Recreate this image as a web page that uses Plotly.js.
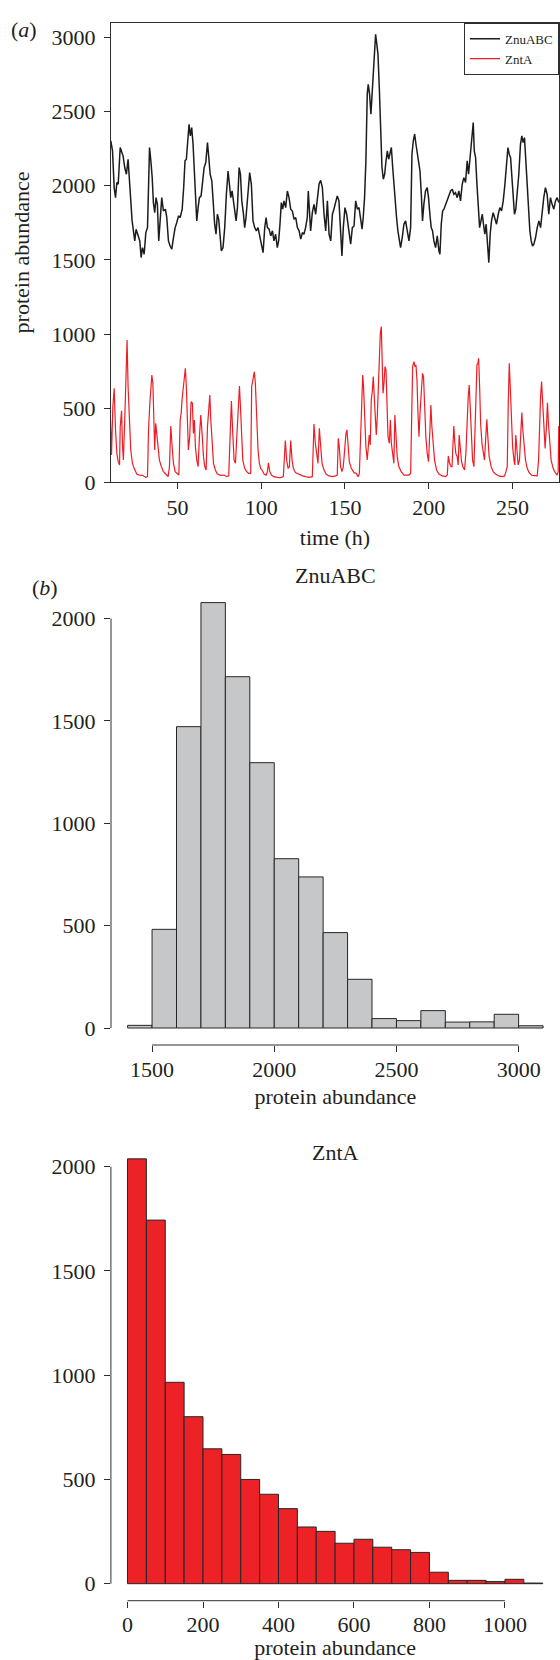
<!DOCTYPE html>
<html>
<head>
<meta charset="utf-8">
<script src="https://cdn.plot.ly/plotly-3.0.1.min.js"></script>
<style>
html,body{margin:0;padding:0;background:#fff;}
#chart{width:560px;height:1660px;}
</style>
</head>
<body>
<div id="chart"></div>
<script>
// ---------- Panel (a): time series ----------
var znuTime = [10.2,11.2,12.2,13.0,13.8,14.6,15.8,16.6,17.5,18.5,19.5,20.5,21.3,22.1,22.9,23.7,24.5,25.3,26.5,27.5,28.3,29.1,30.1,31.1,32.1,33.3,34.1,34.9,35.6,36.4,37.2,38.0,38.8,39.6,40.6,41.6,42.8,43.6,44.6,45.6,46.6,47.6,48.6,49.6,50.6,51.6,52.8,53.7,54.5,55.3,56.1,56.9,57.7,58.5,59.3,60.1,60.9,61.5,62.3,63.1,64.1,65.1,65.9,66.9,67.9,68.7,69.5,70.5,71.5,72.2,73.0,73.8,74.6,75.4,76.2,77.2,78.2,79.2,80.2,81.0,81.8,82.6,83.4,84.2,85.0,85.8,86.8,87.6,88.4,89.4,90.1,90.9,92.1,93.1,94.1,95.1,96.1,97.1,98.1,
100.1,101.1,102.1,102.9,103.7,104.7,105.7,106.7,107.6,108.6,109.6,110.4,111.2,112.0,112.8,113.6,114.6,115.6,116.6,117.6,118.6,119.6,120.6,121.6,122.6,123.6,124.6,125.5,126.5,127.5,128.1,128.9,129.5,130.5,131.5,132.5,133.5,134.5,135.5,136.5,137.5,138.5,139.5,140.5,141.5,142.5,143.4,144.4,145.4,146.4,147.4,148.2,149.0,150.0,151.0,151.8,152.6,153.4,154.4,155.4,156.4,157.4,158.4,159.4,160.2,160.9,161.7,162.5,163.3,163.9,164.7,165.5,166.3,167.1,167.7,168.3,168.9,169.7,170.5,171.3,172.1,172.9,173.7,174.5,175.3,176.1,176.9,177.7,178.5,179.2,180.0,180.8,181.6,182.4,183.2,184.2,185.2,186.2,187.2,188.2,
189.2,190.0,190.8,191.6,192.4,193.2,194.0,194.8,195.6,196.3,197.1,198.1,199.1,199.9,200.7,201.5,202.3,203.1,204.1,205.1,206.1,206.7,207.5,208.3,209.1,210.1,211.1,212.1,213.1,214.1,215.0,216.0,217.0,218.0,219.0,220.0,221.0,222.0,223.0,223.8,224.6,225.4,226.0,226.6,227.2,228.0,228.8,229.6,230.4,231.2,232.0,232.7,233.5,234.3,235.1,235.9,236.7,237.5,238.5,239.5,240.5,241.5,242.5,243.5,244.5,245.5,246.5,247.3,248.1,248.9,249.7,250.5,251.2,252.0,252.8,253.8,254.8,255.6,256.4,257.2,258.0,258.8,259.6,260.4,261.2,262.0,262.8,263.8,264.8,265.8,266.8,267.8,268.7,269.7,270.7,271.7,272.7,273.7,274.7,275.7,276.7,277.7];
var znuValues = [2303,2235,1988,1920,2022,2010,2258,2224,2202,2123,2078,2179,2033,1875,1763,1696,1628,1707,1662,1628,1516,1583,1538,1684,1718,2258,2168,2055,1887,1819,1920,1875,1628,1786,1920,1830,1842,1786,1628,1594,1572,1651,1718,1752,1797,1786,1842,1988,2168,2179,2325,2415,2337,2393,2280,2123,1943,1763,1853,1920,1932,2055,2123,2157,2292,2190,2078,2033,1853,1741,1673,1808,1774,1651,1561,1583,1718,1943,2100,2010,1920,1965,1898,1842,1763,1853,2123,2078,1898,1808,1718,1786,1943,2089,2010,1763,1718,1696,1718,
1606,1549,1718,1786,1718,1707,1662,1696,1628,1673,1583,1628,1741,1887,1842,1898,1853,1965,1920,1842,1830,1774,1786,1718,1696,1640,1684,1673,1718,1786,1965,1808,1696,1819,1875,1808,1920,2010,2037,1988,1808,1696,1898,1673,1628,1808,1842,1898,1932,1898,1718,1527,1718,1853,1808,1741,1684,1606,1718,1729,1898,1842,1853,1763,1707,1786,1920,2168,2618,2685,2618,2483,2640,2775,2955,3022,2966,2888,2663,2393,2123,2044,2078,2168,2235,2179,2213,2258,2123,2010,1898,1786,1696,1651,1583,1651,1741,1763,1696,1628,
1718,2213,2303,2348,2280,2213,2146,2100,1943,1763,1875,1965,1988,1920,1808,1718,1696,1628,1583,1662,1561,1538,1741,1830,1842,1875,1898,1943,1965,1977,1943,1954,1920,1965,1898,2010,2055,2022,2168,2078,2168,2258,2325,2427,2235,2190,2010,1875,1718,1763,1808,1741,1673,1741,1606,1482,1673,1763,1819,1786,1741,1808,1853,1830,1898,2010,2168,2258,2213,2190,2055,1898,1808,1842,1943,2078,2280,2337,2292,2325,2168,1988,1808,1696,1628,1594,1606,1651,1718,1763,1718,1853,1920,1988,1943,1808,1920,1875,1842,1898,1920,1887];

var zntTime = [10.0,10.6,11.4,12.2,13.0,13.8,14.6,15.4,15.8,16.6,17.2,17.7,18.5,19.3,19.9,20.5,21.3,22.1,23.1,24.1,25.7,27.3,29.1,31.1,32.1,32.7,33.5,34.1,34.7,35.3,35.8,36.4,37.0,37.6,38.4,39.2,40.4,41.6,43.0,44.4,45.2,46.0,46.8,47.6,48.6,49.6,50.8,51.6,52.2,52.8,53.5,54.1,54.7,55.3,55.9,56.5,57.3,58.1,58.9,59.5,60.1,60.7,61.5,62.3,63.1,63.9,64.7,65.5,66.3,67.1,67.9,68.7,69.3,69.9,70.7,71.5,72.6,73.8,75.8,77.8,79.4,80.6,81.4,82.2,83.0,83.8,84.6,85.4,86.2,87.0,87.6,88.2,89.0,90.1,91.3,92.5,93.7,94.3,95.1,95.9,96.5,97.3,98.1,98.9,99.7,
100.5,101.7,102.9,103.7,104.3,105.1,106.1,107.6,109.6,111.6,113.2,114.0,114.4,115.2,116.0,116.8,117.6,118.4,119.2,120.4,122.0,123.6,124.7,126.5,128.5,130.5,131.1,131.5,132.3,133.1,133.9,134.7,135.5,136.3,137.5,138.7,140.5,142.5,144.4,145.4,146.0,146.6,147.4,148.2,149.0,149.8,150.6,151.2,151.8,152.6,153.8,155.4,156.8,157.8,158.6,159.4,160.0,160.6,161.1,161.7,162.5,163.3,163.9,164.5,165.1,165.7,166.3,166.9,167.5,168.1,168.7,169.3,169.9,170.5,171.1,171.7,172.1,172.7,173.3,173.9,174.5,175.1,175.7,176.5,177.1,177.7,178.5,179.2,179.8,180.4,181.2,182.2,183.6,185.2,187.2,
188.2,189.2,189.8,190.4,191.2,191.8,192.4,193.0,193.6,194.2,194.8,195.6,196.3,196.9,197.5,198.3,199.1,199.9,200.7,201.3,201.9,202.7,203.5,204.7,206.1,208.1,210.1,211.1,211.7,212.5,213.3,213.9,214.4,215.0,215.6,216.2,217.0,217.6,218.2,218.8,219.6,220.4,221.4,222.2,223.0,223.6,224.2,224.8,225.4,226.2,227.0,227.6,228.2,228.8,229.4,229.8,230.4,231.0,231.8,232.5,233.3,234.1,234.7,235.3,236.1,237.3,238.5,239.9,241.9,243.9,245.3,246.1,246.9,247.5,248.1,248.7,249.3,250.1,250.9,251.4,252.0,252.6,253.4,254.2,255.0,255.6,256.2,257.0,257.8,258.8,260.0,261.6,263.2,264.8,265.6,266.2,266.8,267.4,268.0,268.7,269.5,270.3,270.9,271.5,272.3,273.1,274.3,275.5,276.7,277.3,277.7];
var zntValues = [420,184,510,634,353,195,139,117,375,483,240,150,420,870,960,645,353,218,128,94,56,49,47,33,38,353,533,668,724,668,420,218,398,330,218,150,105,72,56,38,105,380,240,128,72,60,49,420,465,567,645,724,769,645,420,218,308,544,533,330,420,240,150,105,308,454,330,173,105,83,375,555,589,420,218,128,83,56,47,49,38,43,308,549,330,150,128,308,555,650,510,285,150,94,72,60,60,645,701,746,668,420,218,128,94,
83,56,49,72,132,72,49,38,33,31,38,195,281,150,94,105,281,150,94,65,56,49,43,38,33,38,240,393,263,173,128,364,240,128,83,56,43,38,43,49,297,240,105,72,105,240,330,353,240,139,94,65,60,38,60,308,578,724,645,443,240,150,263,319,252,555,612,713,578,443,319,443,645,893,1005,1050,870,600,668,780,758,555,308,263,420,263,173,128,454,308,173,105,72,49,47,
49,60,533,780,814,780,791,690,465,308,465,600,735,713,488,308,195,139,353,522,375,240,150,83,56,43,38,49,177,128,105,105,240,380,263,195,173,117,319,207,139,105,83,195,465,578,656,488,263,150,105,375,600,791,803,836,645,398,263,195,150,308,425,308,173,105,72,56,43,38,43,72,105,533,803,645,420,240,150,117,319,218,117,150,353,470,353,218,150,94,65,47,43,43,150,465,578,679,555,353,229,375,537,398,240,150,94,65,49,72,380];

var seriesNames = ['ZnuABC', 'ZntA'];
var timeTicks = [50, 100, 150, 200, 250];
var abundanceTicksA = [0, 500, 1000, 1500, 2000, 2500, 3000];

// ---------- Panel (b): histograms ----------
var znuBinLeft = [1400,1500,1600,1700,1800,1900,2000,2100,2200,2300,2400,2500,2600,2700,2800,2900,3000];
var znuCounts  = [13,482,1472,2078,1716,1296,827,738,466,238,46,36,85,29,30,67,11];
var znuBinWidth = 100;
var znuTicks = [1500, 2000, 2500, 3000];

var zntBinLeft = [0,50,100,150,200,250,300,350,400,450,500,550,600,650,700,750,800,850,900,950,1000,1050];
var zntCounts  = [2038,1744,966,801,647,620,500,429,360,272,251,194,213,175,163,150,55,16,16,10,21,3];
var zntBinWidth = 50;
var zntTicks = [0, 200, 400, 600, 800, 1000];
var countTicks = [0, 500, 1000, 1500, 2000];

var axisTitle = 'protein abundance';

// ---------- layout helpers (pixel geometry) ----------
var W = 560, H = 1660;
function dx(a, b) { return [a / W, b / W]; }
function dy(top, bottom) { return [1 - bottom / H, 1 - top / H]; }
var SERIF = 'Liberation Serif';
var TXT = '#231f20';
var LINE = '#2e2e2e';
function serif(size) { return {family: SERIF, size: size, color: TXT}; }

function baseAxis(extra) {
  var o = {
    showgrid: false, zeroline: false,
    ticks: 'outside', ticklen: 6, tickwidth: 1, tickcolor: LINE,
    tickfont: serif(22), tickmode: 'array', fixedrange: true
  };
  for (var k in extra) o[k] = extra[k];
  return o;
}

var traces = [
  {x: znuTime, y: znuValues, type: 'scatter', mode: 'lines', name: seriesNames[0],
   line: {color: '#1c1c1c', width: 1.5}, xaxis: 'x', yaxis: 'y'},
  {x: zntTime, y: zntValues, type: 'scatter', mode: 'lines', name: seriesNames[1],
   line: {color: '#ee1d25', width: 1.2}, xaxis: 'x', yaxis: 'y'},
  {x: znuBinLeft, y: znuCounts, type: 'bar', width: znuBinWidth, offset: 0,
   marker: {color: '#c6c7c9', line: {color: '#262626', width: 1}},
   showlegend: false, xaxis: 'x2', yaxis: 'y2', hoverinfo: 'y'},
  {x: zntBinLeft, y: zntCounts, type: 'bar', width: zntBinWidth, offset: 0,
   marker: {color: '#ec2227', line: {color: '#262626', width: 1}},
   showlegend: false, xaxis: 'x3', yaxis: 'y3', hoverinfo: 'y'}
];

var layout = {
  width: W, height: H,
  margin: {l: 0, r: 0, t: 0, b: 0},
  paper_bgcolor: '#ffffff', plot_bgcolor: 'rgba(0,0,0,0)',
  font: serif(14),
  bargap: 0,
  showlegend: true,
  legend: {
    x: 559 / W, xanchor: 'right', y: 1 - 22.7 / H, yanchor: 'top',
    bgcolor: '#ffffff', bordercolor: LINE, borderwidth: 1,
    font: serif(13),
    itemwidth: 30, tracegroupgap: 0
  },
  xaxis: baseAxis({
    domain: dx(111, 559), range: [10.3, 277.8], tickvals: timeTicks,
    showline: true, mirror: true, linecolor: LINE, linewidth: 1,
    anchor: 'y', ticklabelstandoff: -1,
    title: {text: 'time (h)', font: serif(22), standoff: 10}
  }),
  yaxis: baseAxis({
    domain: dy(22.7, 482.3), range: [0, 3100], tickvals: abundanceTicksA,
    showline: true, mirror: true, linecolor: LINE, linewidth: 1,
    anchor: 'x', ticklabelstandoff: 4,
    title: {text: axisTitle, font: serif(22), standoff: 15}
  }),
  xaxis2: baseAxis({
    domain: dx(111, 559.7), range: [1332, 3168], tickvals: znuTicks,
    showline: false, anchor: 'y2', ticklabelstandoff: -1,
    title: {text: axisTitle, font: serif(22), standoff: 7}
  }),
  yaxis2: baseAxis({
    domain: dy(585.2, 1045), range: [-83, 2163], tickvals: countTicks,
    showline: false, anchor: 'x2', ticklabelstandoff: 4
  }),
  xaxis3: baseAxis({
    domain: dx(110.9, 559.3), range: [-44, 1144], tickvals: zntTicks,
    showline: false, anchor: 'y3', ticklabelstandoff: -2,
    title: {text: axisTitle, font: serif(22), standoff: 10}
  }),
  yaxis3: baseAxis({
    domain: dy(1141.4, 1600.7), range: [-81.6, 2121.6], tickvals: countTicks,
    showline: false, anchor: 'x3', ticklabelstandoff: 4
  }),
  shapes: [
    // R-style axis lines spanning only the tick range
    {type: 'line', xref: 'x2', yref: 'y2 domain', x0: znuTicks[0], x1: znuTicks[znuTicks.length - 1], y0: 0, y1: 0, line: {color: LINE, width: 1}},
    {type: 'line', xref: 'x2 domain', yref: 'y2', x0: 0, x1: 0, y0: countTicks[0], y1: countTicks[countTicks.length - 1], line: {color: LINE, width: 1}},
    {type: 'line', xref: 'x3', yref: 'y3 domain', x0: zntTicks[0], x1: zntTicks[zntTicks.length - 1], y0: 0, y1: 0, line: {color: LINE, width: 1}},
    {type: 'line', xref: 'x3 domain', yref: 'y3', x0: 0, x1: 0, y0: countTicks[0], y1: countTicks[countTicks.length - 1], line: {color: LINE, width: 1}}
  ],
  annotations: [
    {text: '(<i>a</i>)', xref: 'paper', yref: 'paper', x: 24 / W, y: 1 - 29 / H, showarrow: false,
     xanchor: 'center', yanchor: 'middle', font: serif(22)},
    {text: '(<i>b</i>)', xref: 'paper', yref: 'paper', x: 45 / W, y: 1 - 587 / H, showarrow: false,
     xanchor: 'center', yanchor: 'middle', font: serif(22)},
    {text: seriesNames[0], xref: 'paper', yref: 'paper', x: 335 / W, y: 1 - 575 / H, showarrow: false,
     xanchor: 'center', yanchor: 'middle', font: serif(22)},
    {text: seriesNames[1], xref: 'paper', yref: 'paper', x: 335 / W, y: 1 - 1152 / H, showarrow: false,
     xanchor: 'center', yanchor: 'middle', font: serif(22)}
  ]
};

Plotly.newPlot('chart', traces, layout, {staticPlot: true, displayModeBar: false});
</script>
</body>
</html>
